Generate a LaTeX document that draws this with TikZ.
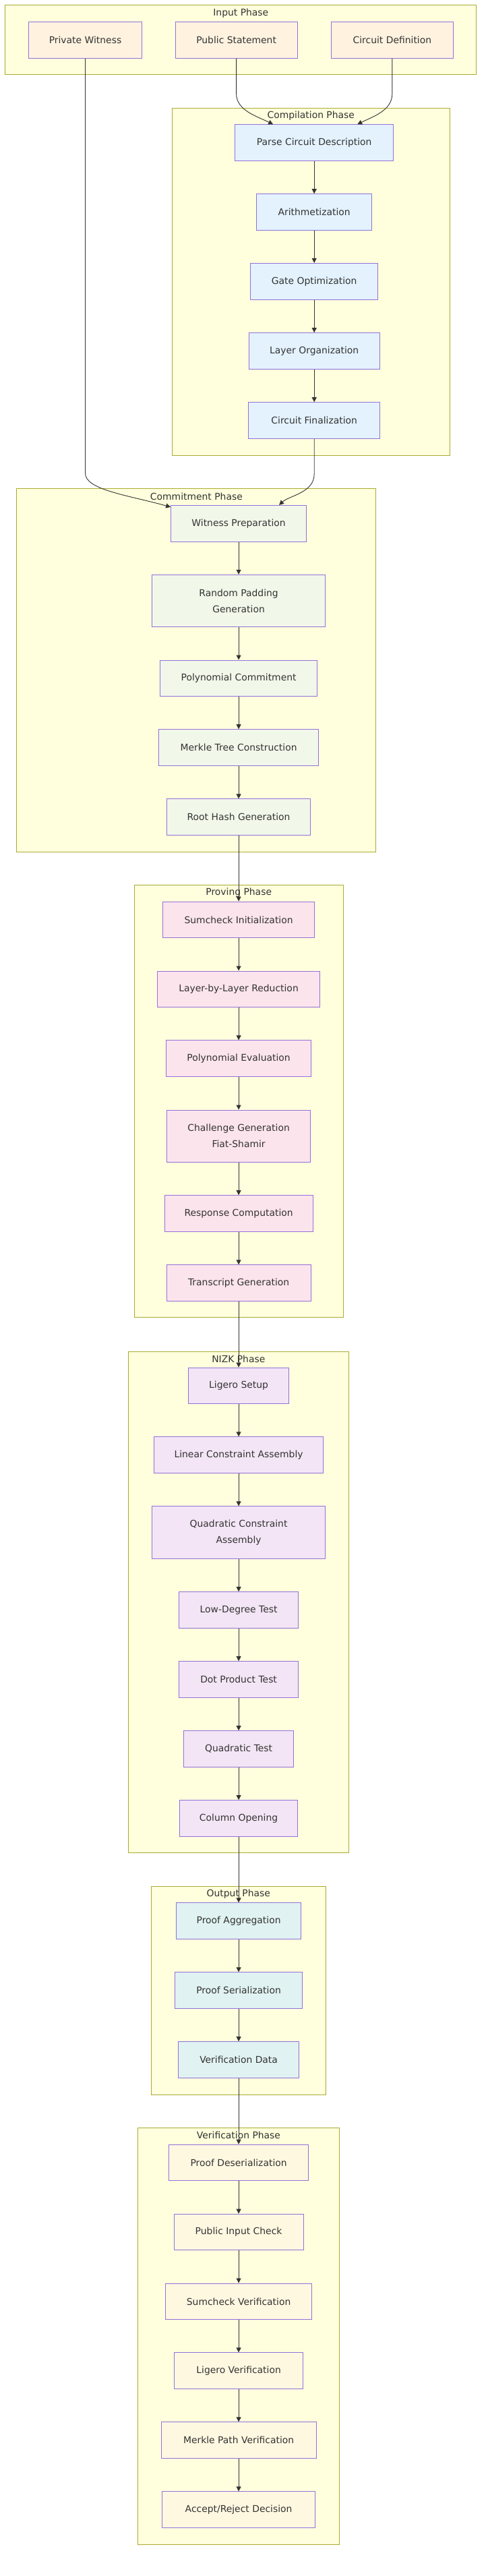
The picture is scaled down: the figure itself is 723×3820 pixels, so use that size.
\documentclass[tikz,border=0pt]{standalone}
\usepackage{fontspec}
\setmainfont{DejaVu Sans}
\usetikzlibrary{arrows.meta,calc}
\definecolor{clfill}{HTML}{FFFFDE}
\definecolor{cldraw}{HTML}{AAAA33}
\definecolor{nddraw}{HTML}{9370DB}
\definecolor{txt}{HTML}{333333}
\definecolor{edgec}{HTML}{333333}
\definecolor{fin}{HTML}{FFF3E0}
\definecolor{fcomp}{HTML}{E3F2FD}
\definecolor{fcommit}{HTML}{F1F8E9}
\definecolor{fprove}{HTML}{FCE4EC}
\definecolor{fnizk}{HTML}{F3E5F5}
\definecolor{fout}{HTML}{E0F2F1}
\definecolor{fver}{HTML}{FFF8E1}
\begin{document}
\begin{tikzpicture}[x=1pt,y=-1pt,
  cluster/.style={draw=cldraw, fill=clfill, line width=1pt},
  ctitle/.style={text=txt, font=\fontsize{13.9}{16}\selectfont, anchor=center, inner sep=0pt},
  box/.style={draw=nddraw, line width=1pt, minimum height=53.6pt, inner sep=0pt, text=txt, align=center, font=\fontsize{13.9}{24}\selectfont},
  tall/.style={minimum height=77.3pt},
  arr/.style={draw=edgec, line width=0.9pt, -{Triangle[length=7pt,width=7pt]}},
]
\useasboundingbox (0,0) rectangle (723,3820);
% clusters
\draw[cluster] (7.8,7.7) rectangle (706.8,110.3);
\node[ctitle] (tin) at (357.3,20) {Input Phase};
\draw[cluster] (255,160.3) rectangle (667.6,675);
\node[ctitle] (tcomp) at (461.3,172) {Compilation Phase};
\draw[cluster] (24.9,724) rectangle (557.9,1263);
\node[ctitle] (tcommit) at (291.4,736) {Commitment Phase};
\draw[cluster] (199,1312.7) rectangle (509.3,1953.8);
\node[ctitle] (tprove) at (354.2,1324) {Proving Phase};
\draw[cluster] (190.3,2004) rectangle (517.3,2747.5);
\node[ctitle] (tnizk) at (353.8,2015.5) {NIZK Phase};
\draw[cluster] (224.3,2797.2) rectangle (483.3,3106);
\node[ctitle] (tout) at (353.8,2808.5) {Output Phase};
\draw[cluster] (204.3,3155.3) rectangle (503.7,3773.3);
\node[ctitle] (tver) at (354,3166.5) {Verification Phase};
% input
\node[box, fill=fin, minimum width=168.3pt] (pw) at (126.5,59.5) {Private Witness};
\node[box, fill=fin, minimum width=181.2pt] (ps) at (350.6,59.5) {Public Statement};
\node[box, fill=fin, minimum width=181.7pt] (cd) at (581.9,59.5) {Circuit Definition};
% compilation
\node[box, fill=fcomp, minimum width=234.7pt] (parse) at (466.2,211.7) {Parse Circuit Description};
\node[box, fill=fcomp, minimum width=171pt] (arith) at (466.2,314.5) {Arithmetization};
\node[box, fill=fcomp, minimum width=189.4pt] (gate) at (466.2,417.2) {Gate Optimization};
\node[box, fill=fcomp, minimum width=193.7pt] (layer) at (466.2,520.5) {Layer Organization};
\node[box, fill=fcomp, minimum width=194.6pt] (final) at (466.2,623.5) {Circuit Finalization};
% commitment
\node[box, fill=fcommit, minimum width=201pt] (wp) at (354.1,776.2) {Witness Preparation};
\node[box, tall, fill=fcommit, minimum width=257.3pt] (rpg) at (354.1,891) {Random Padding\\Generation};
\node[box, fill=fcommit, minimum width=232.9pt] (pc) at (354.1,1005.8) {Polynomial Commitment};
\node[box, fill=fcommit, minimum width=237pt] (mtc) at (354.1,1108.5) {Merkle Tree Construction};
\node[box, fill=fcommit, minimum width=213.4pt] (rhg) at (354.1,1211.7) {Root Hash Generation};
% proving
\node[box, fill=fprove, minimum width=224.3pt] (si) at (354.1,1363.8) {Sumcheck Initialization};
\node[box, fill=fprove, minimum width=240.6pt] (lbl) at (354.1,1466.8) {Layer-by-Layer Reduction};
\node[box, fill=fprove, minimum width=215.4pt] (pe) at (354.1,1569.7) {Polynomial Evaluation};
\node[box, tall, fill=fprove, minimum width=213.4pt] (cg) at (354.1,1684.7) {Challenge Generation\\Fiat-Shamir};
\node[box, fill=fprove, minimum width=220pt] (rc) at (354.1,1799.5) {Response Computation};
\node[box, fill=fprove, minimum width=214pt] (tg) at (354.1,1902.6) {Transcript Generation};
% nizk
\node[box, fill=fnizk, minimum width=148.3pt] (ls) at (354.1,2055) {Ligero Setup};
\node[box, fill=fnizk, minimum width=251.4pt] (lca) at (354.1,2157.6) {Linear Constraint Assembly};
\node[box, tall, fill=fnizk, minimum width=257.4pt] (qca) at (354.1,2272.5) {Quadratic Constraint\\Assembly};
\node[box, fill=fnizk, minimum width=176.6pt] (ldt) at (354.1,2387.5) {Low-Degree Test};
\node[box, fill=fnizk, minimum width=176.3pt] (dpt) at (354.1,2490.5) {Dot Product Test};
\node[box, fill=fnizk, minimum width=162.3pt] (qt) at (354.1,2593.5) {Quadratic Test};
\node[box, fill=fnizk, minimum width=175.4pt] (co) at (354.1,2696.4) {Column Opening};
% output
\node[box, fill=fout, minimum width=184.6pt] (pa) at (354.1,2848.7) {Proof Aggregation};
\node[box, fill=fout, minimum width=189.7pt] (pser) at (354.1,2951.7) {Proof Serialization};
\node[box, fill=fout, minimum width=179.4pt] (vd) at (354.1,3054.5) {Verification Data};
% verification
\node[box, fill=fver, minimum width=207pt] (pd) at (354.1,3207) {Proof Deserialization};
\node[box, fill=fver, minimum width=192pt] (pic) at (354.1,3310) {Public Input Check};
\node[box, fill=fver, minimum width=216.6pt] (sv) at (354.1,3412.8) {Sumcheck Verification};
\node[box, fill=fver, minimum width=190.3pt] (lv) at (354.1,3515.7) {Ligero Verification};
\node[box, fill=fver, minimum width=230pt] (mpv) at (354.1,3618.7) {Merkle Path Verification};
\node[box, fill=fver, minimum width=226.3pt] (ard) at (354.1,3721.7) {Accept/Reject Decision};
% curved edges
\draw[arr] (ps.south) -- ++(0,52) .. controls +(0,25) and ($(parse.north)+(-85,-12)$) .. ($(parse.north)+(-61,0)$);
\draw[arr] (cd.south) -- ++(0,52) .. controls +(0,25) and ($(parse.north)+(88,-12)$) .. ($(parse.north)+(64,0)$);
\draw[arr] (pw.south) -- ++(0,615) .. controls +(0,25) and ($(wp.north west)+(-60,-14)$) .. ($(wp.north west)+(0,3)$);
\draw[arr] (final.south) -- ++(0,52) .. controls +(0,28) and ($(wp.north)+(75,-14)$) .. ($(wp.north)+(60,0)$);
% straight edges
\draw[arr] (parse) -- (arith);
\draw[arr] (arith) -- (gate);
\draw[arr] (gate) -- (layer);
\draw[arr] (layer) -- (final);
\draw[arr] (wp) -- (rpg);
\draw[arr] (rpg) -- (pc);
\draw[arr] (pc) -- (mtc);
\draw[arr] (mtc) -- (rhg);
\draw[arr] (rhg) -- (si);
\draw[arr] (si) -- (lbl);
\draw[arr] (lbl) -- (pe);
\draw[arr] (pe) -- (cg);
\draw[arr] (cg) -- (rc);
\draw[arr] (rc) -- (tg);
\draw[arr] (tg) -- (ls);
\draw[arr] (ls) -- (lca);
\draw[arr] (lca) -- (qca);
\draw[arr] (qca) -- (ldt);
\draw[arr] (ldt) -- (dpt);
\draw[arr] (dpt) -- (qt);
\draw[arr] (qt) -- (co);
\draw[arr] (co) -- (pa);
\draw[arr] (pa) -- (pser);
\draw[arr] (pser) -- (vd);
\draw[arr] (vd) -- (pd);
\draw[arr] (pd) -- (pic);
\draw[arr] (pic) -- (sv);
\draw[arr] (sv) -- (lv);
\draw[arr] (lv) -- (mpv);
\draw[arr] (mpv) -- (ard);
\end{tikzpicture}
\end{document}
